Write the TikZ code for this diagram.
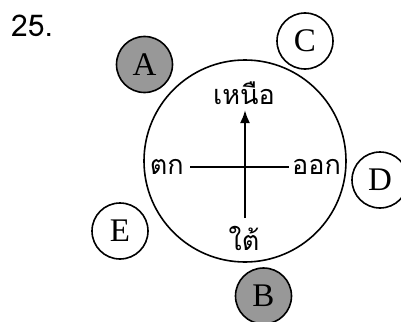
\documentclass[tikz,border=0pt]{standalone}
\usepackage{fontspec}
\usepackage{xcolor}
\usetikzlibrary{arrows.meta}
\newfontfamily\thaifont[Script=Thai]{Loma}
\newfontfamily\letterfont{Liberation Serif}
\definecolor{shade}{RGB}{152,152,152}

\begin{document}
\begin{tikzpicture}[
  x=1pt, y=-1pt,
  seat/.style={circle, draw, line width=1.6pt, minimum size=56pt, inner sep=0pt,
    font=\letterfont\fontsize{33}{33}\selectfont},
  filled/.style={seat, fill=shade},
  dirlabel/.style={inner sep=0pt, font=\thaifont\fontsize{27}{27}\selectfont},
  axis/.style={line width=2.2pt}
]
\useasboundingbox (0,0) rectangle (401,321);

% Question number
\node[anchor=base west, inner sep=0pt, font=\thaifont\fontsize{30}{30}\selectfont] (num) at (11,37) {25.};

% Table
\node[circle, draw, line width=1.6pt, minimum size=202pt, inner sep=0pt] (table) at (245,161) {};

% Directions
\node[dirlabel] (north) at (244,93) {เหนือ};
\node[dirlabel] (south) at (244,238) {ใต้};
\node[dirlabel, anchor=east] (west) at (184,167) {ตก};
\node[dirlabel, anchor=west] (east) at (292,167) {ออก};

\coordinate (nTip) at (245,110);
\coordinate (sEnd) at (245,218);
\coordinate (wEnd) at (190,167);
\coordinate (eEnd) at (289,167);
\draw[axis, -{Latex[length=13pt,width=10pt]}] (sEnd) -- (nTip);
\draw[axis] (wEnd) -- (eEnd);

% Seats around the table
\node[filled] (A) at (144.5,64.5) {A};
\node[seat] (C) at (305,41) {C};
\node[seat] (D) at (380,180) {D};
\node[seat] (E) at (120,231) {E};
\node[filled] (B) at (263.5,296) {B};

\end{tikzpicture}
\end{document}
